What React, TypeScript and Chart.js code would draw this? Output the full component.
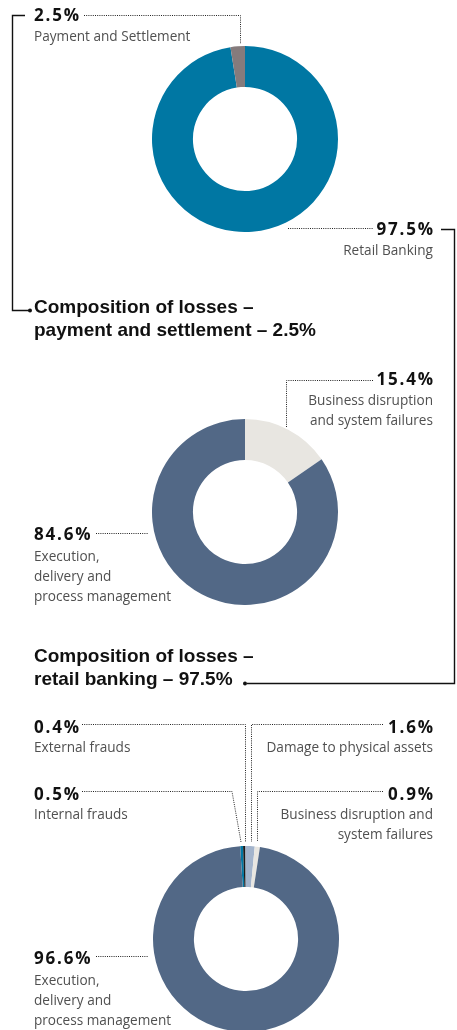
import React, { useEffect, useRef } from "react";
import { Chart, registerables } from "chart.js";

Chart.register(...registerables);

// ---- Data ----
const overviewLabels = ["Retail Banking", "Payment and Settlement"];
const overviewValues = [97.5, 2.5];
const overviewColors = ["#0077a3", "#857b7c"];

const paymentLabels = [
  "Business disruption and system failures",
  "Execution, delivery and process management",
];
const paymentValues = [15.4, 84.6];
const paymentColors = ["#e8e6e1", "#526886"];

const retailLabels = [
  "Internal frauds",
  "External frauds",
  "Damage to physical assets",
  "Business disruption and system failures",
  "Execution, delivery and process management",
];
const retailValues = [0.5, 0.4, 1.6, 0.9, 96.6];
const retailColors = ["#0077a3", "#1a1a1a", "#a3b4cc", "#e8e6e1", "#526886"];

type DonutProps = {
  labels: string[];
  values: number[];
  colors: string[];
  rotation: number;
  left: number;
  top: number;
  size: number;
};

function Donut({ labels, values, colors, rotation, left, top, size }: DonutProps) {
  const ref = useRef<HTMLCanvasElement | null>(null);
  useEffect(() => {
    if (!ref.current) return;
    const chart = new Chart(ref.current, {
      type: "doughnut",
      data: {
        labels,
        datasets: [
          {
            data: values,
            backgroundColor: colors,
            borderWidth: 0,
            hoverOffset: 0,
          },
        ],
      },
      options: {
        responsive: false,
        maintainAspectRatio: false,
        animation: false,
        rotation,
        cutout: "56%",
        layout: { padding: 0 },
        events: [],
        plugins: {
          legend: { display: false },
          tooltip: { enabled: false },
        },
      },
    });
    return () => chart.destroy();
  }, []);
  return (
    <canvas
      ref={ref}
      width={size}
      height={size}
      style={{ position: "absolute", left, top, width: size, height: size }}
    />
  );
}

const LS = 1.8;

const pctStyle: React.CSSProperties = {
  position: "absolute",
  fontFamily: "'Open Sans', sans-serif",
  fontWeight: 700,
  fontSize: 17,
  lineHeight: "16px",
  letterSpacing: LS,
  color: "#111",
  whiteSpace: "nowrap",
};

const bodyStyle: React.CSSProperties = {
  position: "absolute",
  fontFamily: "'Open Sans', sans-serif",
  fontWeight: 400,
  fontSize: 13.6,
  lineHeight: "20px",
  color: "#505050",
  whiteSpace: "nowrap",
};

const headStyle: React.CSSProperties = {
  position: "absolute",
  fontFamily: "'Liberation Sans', Arial, sans-serif",
  fontWeight: 700,
  fontSize: 19,
  lineHeight: "23px",
  color: "#111",
  whiteSpace: "nowrap",
};

function Pct({ x, y, right, children }: { x?: number; y: number; right?: number; children: React.ReactNode }) {
  const s: React.CSSProperties = { ...pctStyle, top: y };
  if (right !== undefined) {
    s.right = right;
    s.textAlign = "right";
    s.marginRight = -LS;
  } else s.left = x;
  return <div style={s}>{children}</div>;
}

function Body({ x, y, right, children }: { x?: number; y: number; right?: number; children: React.ReactNode }) {
  const s: React.CSSProperties = { ...bodyStyle, top: y };
  if (right !== undefined) {
    s.right = right;
    s.textAlign = "right";
  } else s.left = x;
  return <div style={s}>{children}</div>;
}

export default function App() {
  const W = 457;
  const R = W - 433; // right offset for right-aligned labels
  const dot = "1 1.2";
  return (
    <div
      style={{
        position: "absolute",
        left: 0,
        top: 0,
        width: W,
        height: 1030,
        overflow: "hidden",
        background: "#fff",
      }}
    >
      <Donut labels={overviewLabels} values={overviewValues} colors={overviewColors} rotation={0} left={152} top={46} size={186} />
      <Donut labels={paymentLabels} values={paymentValues} colors={paymentColors} rotation={0} left={152} top={419} size={186} />
      <Donut labels={retailLabels} values={retailValues} colors={retailColors} rotation={-3.6} left={153} top={846} size={186} />

      <svg
        width={W}
        height={1030}
        style={{ position: "absolute", left: 0, top: 0, pointerEvents: "none" }}
      >
        <g fill="none" stroke="#222" strokeWidth={1} strokeDasharray={dot}>
          <polyline points="84,15.5 240.5,15.5 240.5,44" />
          <polyline points="288,228.5 373,228.5" />
          <polyline points="373,380.5 286.5,380.5 286.5,428" />
          <polyline points="96,533.5 148,533.5" />
          <polyline points="82,724.5 245.5,724.5 245.5,842" />
          <polyline points="82,791.5 232,791.5 241,842" />
          <polyline points="383,724.5 251.5,724.5 251.5,842" />
          <polyline points="383,791.5 257.5,791.5 257.5,842" />
          <polyline points="96,956.5 148,956.5" />
        </g>
        <g fill="none" stroke="#111" strokeWidth={1.4}>
          <polyline points="25,15.5 12.5,15.5 12.5,310.5 29,310.5" />
          <polyline points="441,229.5 454.5,229.5 454.5,683.5 247,683.5" />
        </g>
        <circle cx={30} cy={310.5} r={2} fill="#111" />
        <circle cx={245} cy={683.5} r={2} fill="#111" />
      </svg>

      <Pct x={34} y={7}>2.5%</Pct>
      <Body x={34} y={26}>Payment and Settlement</Body>

      <Pct right={R} y={221}>97.5%</Pct>
      <Body right={R} y={240}>Retail Banking</Body>

      <div style={{ ...headStyle, left: 34, top: 295 }}>
        Composition of losses –<br />payment and settlement – 2.5%
      </div>

      <Pct right={R} y={371}>15.4%</Pct>
      <Body right={R} y={390}>
        Business disruption
        <br />
        and system failures
      </Body>

      <Pct x={34} y={526}>84.6%</Pct>
      <Body x={34} y={546}>
        Execution,
        <br />
        delivery and
        <br />
        process management
      </Body>

      <div style={{ ...headStyle, left: 34, top: 644 }}>
        Composition of losses –<br />retail banking – 97.5%
      </div>

      <Pct x={34} y={719}>0.4%</Pct>
      <Body x={34} y={737}>External frauds</Body>
      <Pct right={R} y={719}>1.6%</Pct>
      <Body right={R} y={737}>Damage to physical assets</Body>

      <Pct x={34} y={786}>0.5%</Pct>
      <Body x={34} y={804}>Internal frauds</Body>
      <Pct right={R} y={786}>0.9%</Pct>
      <Body right={R} y={804}>
        Business disruption and
        <br />
        system failures
      </Body>

      <Pct x={34} y={950}>96.6%</Pct>
      <Body x={34} y={970}>
        Execution,
        <br />
        delivery and
        <br />
        process management
      </Body>
    </div>
  );
}
